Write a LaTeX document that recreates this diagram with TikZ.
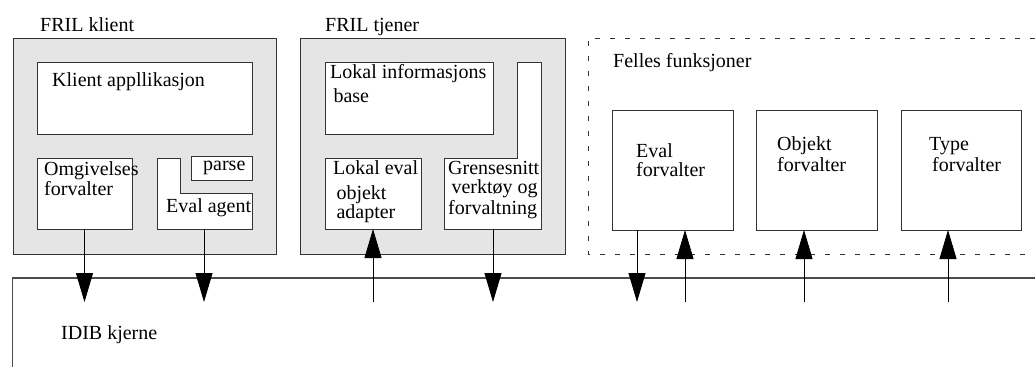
\documentclass[tikz,border=0pt]{standalone}
\usepackage{fontspec}
\setmainfont{Liberation Serif}
\usetikzlibrary{arrows.meta,positioning}

\begin{document}
\begin{tikzpicture}[
    x=1pt, y=-1pt,
    font=\fontsize{20}{16}\selectfont,
    box/.style={draw=black!80, line width=1pt, inner sep=0pt, outer sep=0pt, anchor=north west},
    group/.style={box, fill=black!10},
    part/.style={box, fill=white},
    txt/.style={anchor=base west, inner sep=0pt, align=left},
    flow/.style={line width=0.8pt, -{Triangle[length=29pt,width=17pt]}}
]
    \useasboundingbox (0,0) rectangle (1035,367);
    \coordinate (kjerne) at (0,302);

    % FRIL klient
    \node[group, minimum width=263, minimum height=216] (klient) at (13,38) {};
    \node[txt] at (40,31) {FRIL klient};
    \node[part, minimum width=215, minimum height=72] (app) at (37,62) {};
    \node[txt] at (52,86) {Klient appllikasjon};
    \node[part, minimum width=95, minimum height=71] (omg) at (37,158) {};
    \node[txt] at (44,195) {Omgivelses\\forvalter};
    \draw[draw=black!80, line width=1pt, fill=white] (157,158) -- (180,158) -- (180,193) -- (252,193) -- (252,229) -- (157,229) -- cycle;
    \coordinate (agent) at (204,229);
    \node[txt] at (166,212) {Eval agent};
    \node[part, minimum width=61, minimum height=24] (parse) at (191,156) {};
    \node[txt] at (203,170) {parse};

    % FRIL tjener
    \node[group, minimum width=265, minimum height=216] (tjener) at (300,38) {};
    \node[txt] at (325,31) {FRIL tjener};
    \node[part, minimum width=168, minimum height=72] (info) at (325,62) {};
    \node[txt] at (330,102) {Lokal informasjons\\[4pt]\,base};
    \node[part, minimum width=96, minimum height=71] (loceval) at (325,158) {};
    \node[txt] at (333,218) {Lokal eval\\[9pt]\,objekt\\[-1pt]\,adapter};
    \draw[draw=black!80, line width=1pt, fill=white] (444,158) -- (517,158) -- (517,62) -- (541,62) -- (541,229) -- (444,229) -- cycle;
    \coordinate (grense) at (493,229);
    \node[txt] at (448,214) {Grensesnitt\\[3pt]\,verkt\o y og\\[1pt]forvaltning};

    % Felles funksjoner
    \draw[draw=black!80, line width=1pt, dash pattern=on 5pt off 10pt] (1035,38) -- (588,38) -- (588,254) -- (1035,254);
    \node[txt] at (613,67) {Felles funksjoner};
    \node[box, minimum width=121, minimum height=120] (evalf) at (612,110) {};
    \node[txt] at (636,176) {Eval\\[3pt]forvalter};
    \node[box, minimum width=121, minimum height=120] (objf) at (756,110) {};
    \node[txt] at (777,171) {Objekt\\[1pt]forvalter};
    \node[box, minimum width=120, minimum height=120] (typef) at (901,110) {};
    \node[txt] at (929,171) {Type\\[1pt]\hspace*{3pt}forvalter};

    % IDIB kjerne
    \draw[draw=black!70, line width=1.5pt] (1035,278) -- (12.5,278) -- (12.5,367);
    \node[txt] at (61,339) {IDIB kjerne};

    \draw[flow] (omg.south) -- (omg.south |- kjerne);
    \draw[flow] (agent) -- (agent |- kjerne);
    \draw[flow] (loceval.south |- kjerne) -- (loceval.south);
    \draw[flow] (grense) -- (grense |- kjerne);
    \draw[flow] ([xshift=25pt]evalf.south west) -- ([xshift=25pt]evalf.south west |- kjerne);
    \draw[flow] ([xshift=73pt]evalf.south west |- kjerne) -- ([xshift=73pt]evalf.south west);
    \draw[flow] ([xshift=48pt]objf.south west |- kjerne) -- ([xshift=48pt]objf.south west);
    \draw[flow] ([xshift=47pt]typef.south west |- kjerne) -- ([xshift=47pt]typef.south west);
\end{tikzpicture}
\end{document}
